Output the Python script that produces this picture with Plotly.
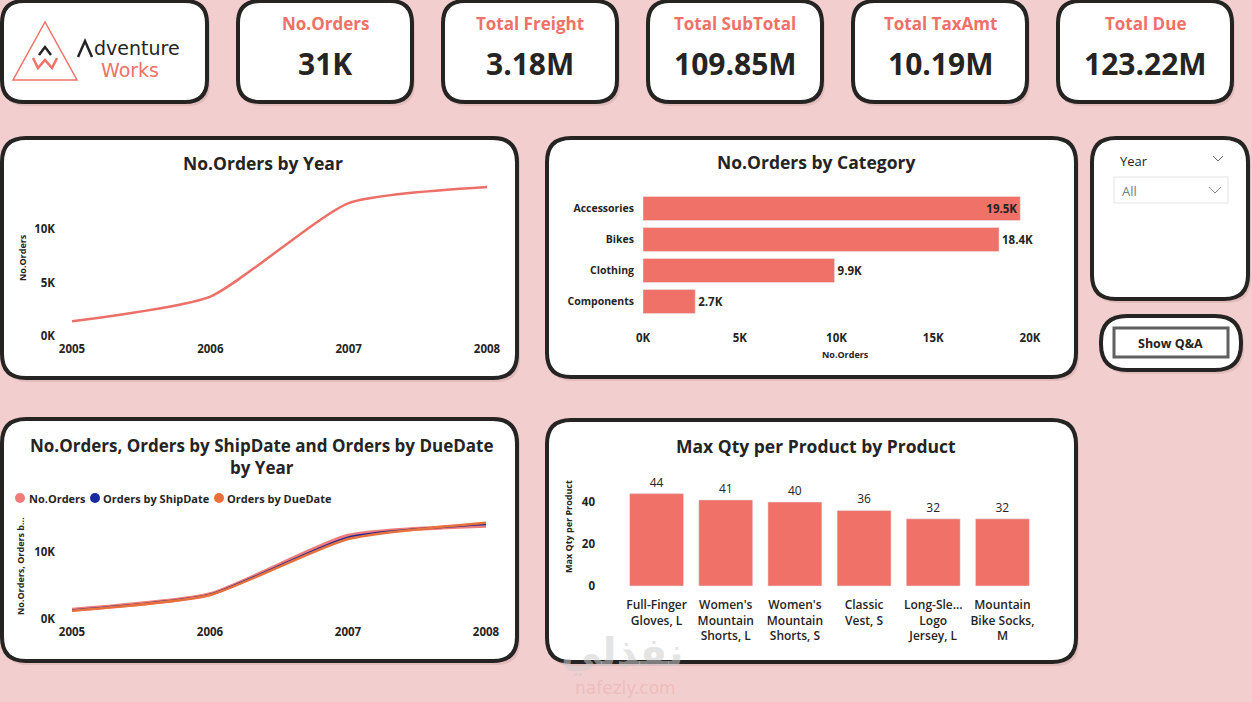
import plotly.graph_objects as go

W, H = 1252, 702

BG = "#F2CECE"
SALMON = "#EF7168"
DARK = "#252423"
FONT = "Segoe UI, Open Sans, sans-serif"

# KPI cards
kpi_labels = ["No.Orders", "Total Freight", "Total SubTotal", "Total TaxAmt", "Total Due"]
kpi_values = ["31K", "3.18M", "109.85M", "10.19M", "123.22M"]

# orders per year
years = [2005, 2006, 2007, 2008]
orders_by_year = [1379, 3692, 12443, 13951]
orders_by_shipdate = [1300, 3650, 12200, 14150]
orders_by_duedate = [1250, 3600, 11950, 14400]

# orders per category
categories = ["Accessories", "Bikes", "Clothing", "Components"]
category_orders = [19500, 18400, 9900, 2700]
category_text = ["19.5K", "18.4K", "9.9K", "2.7K"]

# max qty per product
products = [
    "Full-Finger<br>Gloves, L",
    "Women's<br>Mountain<br>Shorts, L",
    "Women's<br>Mountain<br>Shorts, S",
    "Classic<br>Vest, S",
    "Long-Sle...<br>Logo<br>Jersey, L",
    "Mountain<br>Bike Socks,<br>M",
]
max_qty = [44, 41, 40, 36, 32, 32]


def X(x):
    return x / W


def Y(y):
    return 1 - y / H


def rounded_path(x0, y0, x1, y1, r):
    p = f"M {X(x0 + r)},{Y(y0)} L {X(x1 - r)},{Y(y0)} "
    p += f"Q {X(x1)},{Y(y0)} {X(x1)},{Y(y0 + r)} L {X(x1)},{Y(y1 - r)} "
    p += f"Q {X(x1)},{Y(y1)} {X(x1 - r)},{Y(y1)} L {X(x0 + r)},{Y(y1)} "
    p += f"Q {X(x0)},{Y(y1)} {X(x0)},{Y(y1 - r)} L {X(x0)},{Y(y0 + r)} "
    p += f"Q {X(x0)},{Y(y0)} {X(x0 + r)},{Y(y0)} Z"
    return p


def line_path(points):
    return "M " + " L ".join(f"{X(a)},{Y(b)}" for a, b in points)


fig = go.Figure()


def panel(x0, y0, x1, y1, r=24, lw=4, color=DARK):
    # soft shadow then the white card
    fig.add_shape(type="path", path=rounded_path(x0 + 2, y0 + 3, x1 + 3, y1 + 4, r),
                  xref="paper", yref="paper", fillcolor="rgba(120,60,60,0.13)",
                  line=dict(width=0), layer="below")
    fig.add_shape(type="path", path=rounded_path(x0, y0, x1, y1, r),
                  xref="paper", yref="paper", fillcolor="white",
                  line=dict(color=color, width=lw), layer="below")


def text(x, y, s, size, color=DARK, bold=False, xanchor="center", angle=0, family=FONT):
    fig.add_annotation(x=X(x), y=Y(y), xref="paper", yref="paper",
                       text=f"<b>{s}</b>" if bold else s, showarrow=False,
                       font=dict(family=family, size=size, color=color),
                       xanchor=xanchor, yanchor="middle", textangle=angle)


# ---- cards and panels
panel(2, 1, 207, 102, r=22)
card_x = [238, 443, 648, 853, 1058]
for cx, lab, val in zip(card_x, kpi_labels, kpi_values):
    panel(cx, 1, cx + 174, 102, r=22)
    text(cx + 87, 24, lab, 17, SALMON, bold=True)
    text(cx + 87, 63, val, 30, DARK, bold=True)

panel(2, 138, 517, 378)
panel(547, 138, 1076, 377)
panel(1092, 138, 1248, 299, r=24)
panel(2, 419, 517, 661)
panel(547, 420, 1076, 662)

# ---- logo
fig.add_shape(type="path", path=line_path([(45, 22), (13, 80), (77, 80)]) + " Z",
              xref="paper", yref="paper", line=dict(color=SALMON, width=1.5))
fig.add_shape(type="path", path=line_path([(39, 55), (45, 47), (51, 55)]),
              xref="paper", yref="paper", line=dict(color=DARK, width=2.5))
fig.add_shape(type="path", path=line_path([(33, 58), (38, 68), (45, 60), (52, 68), (57, 58)]),
              xref="paper", yref="paper", line=dict(color=SALMON, width=2.5))
fig.add_shape(type="path", path=line_path([(78, 57), (85, 41), (92, 57)]),
              xref="paper", yref="paper", line=dict(color=DARK, width=2.5))
text(92, 48, "dventure", 19, DARK, xanchor="left", family="DejaVu Sans")
text(99, 70, "Works", 19, SALMON, xanchor="left", family="DejaVu Sans")

# ---- slicer
text(1118, 161, "Year", 13, DARK, xanchor="left")
fig.add_shape(type="path", path=line_path([(1213, 156), (1218, 161), (1223, 156)]),
              xref="paper", yref="paper", line=dict(color="#666666", width=1))
fig.add_shape(type="rect", x0=X(1114), x1=X(1228), y0=Y(203), y1=Y(177),
              xref="paper", yref="paper", line=dict(color="#E4E4E4", width=1))
text(1120, 191, "All", 13, "#7A7A7A", xanchor="left")
fig.add_shape(type="path", path=line_path([(1209, 187), (1215, 193), (1221, 187)]),
              xref="paper", yref="paper", line=dict(color="#888888", width=1))

# ---- Q&A button
panel(1101, 316, 1241, 370, r=26)
fig.add_shape(type="rect", x0=X(1114), x1=X(1228), y0=Y(357), y1=Y(328),
              xref="paper", yref="paper", line=dict(color="#606060", width=3))
text(1170, 343, "Show Q&A", 12.5, DARK, bold=True)

# ---- chart titles and axis titles
text(263, 163, "No.Orders by Year", 17.5, DARK, bold=True)
text(22, 258, "No.Orders", 9, DARK, bold=True, angle=-90)

text(816, 162, "No.Orders by Category", 17.5, DARK, bold=True)
text(845, 354, "No.Orders", 9, DARK, bold=True)

text(262, 456, "No.Orders, Orders by ShipDate and Orders by DueDate<br>by Year", 17, DARK, bold=True)
text(20, 566, "No.Orders, Orders b...", 9, DARK, bold=True, angle=-90)

text(816, 446, "Max Qty per Product by Product", 17.5, DARK, bold=True)
text(568, 527, "Max Qty per Product", 9, DARK, bold=True, angle=-90)

# legend of the three-line chart
legend_items = [("No.Orders", "#F07C7A", 20, 27),
                ("Orders by ShipDate", "#1A2A9E", 95, 101),
                ("Orders by DueDate", "#E8703A", 219, 225)]
for name, col, cx, tx in legend_items:
    fig.add_shape(type="circle", x0=X(cx - 5), x1=X(cx + 5), y0=Y(503), y1=Y(493),
                  xref="paper", yref="paper", fillcolor=col, line=dict(width=0))
    text(tx, 498, name, 11, DARK, bold=True, xanchor="left")

# watermark
text(622, 652, "نفذلي", 40, "rgba(205,205,205,0.55)", bold=True, family="DejaVu Sans")
text(625, 688, "nafezly.com", 17, "rgba(236,185,185,0.8)", family="DejaVu Sans")

# ---- traces
fig.add_trace(go.Scatter(x=years, y=orders_by_year, mode="lines",
                         line=dict(color="#EC6F68", width=2.5, shape="spline", smoothing=0.55),
                         xaxis="x", yaxis="y", showlegend=False, hoverinfo="skip"))

fig.add_trace(go.Bar(y=categories, x=category_orders, orientation="h",
                     text=category_text, texttemplate="<b>%{text}</b>",
                     textposition=["inside", "outside", "outside", "outside"],
                     insidetextanchor="end",
                     textfont=dict(family=FONT, size=11.5, color=DARK),
                     insidetextfont=dict(family=FONT, size=11.5, color=DARK),
                     outsidetextfont=dict(family=FONT, size=11.5, color=DARK),
                     marker=dict(color=SALMON), cliponaxis=False,
                     xaxis="x2", yaxis="y2", showlegend=False, hoverinfo="skip"))

fig.add_trace(go.Scatter(x=years, y=orders_by_year, mode="lines",
                         line=dict(color="#F07C7A", width=4, shape="spline", smoothing=0.55),
                         xaxis="x3", yaxis="y3", showlegend=False, hoverinfo="skip"))
fig.add_trace(go.Scatter(x=years, y=orders_by_shipdate, mode="lines",
                         line=dict(color="#1A2A9E", width=2, shape="spline", smoothing=0.55),
                         xaxis="x3", yaxis="y3", showlegend=False, hoverinfo="skip"))
fig.add_trace(go.Scatter(x=years, y=orders_by_duedate, mode="lines",
                         line=dict(color="#E8703A", width=2.5, shape="spline", smoothing=0.55),
                         xaxis="x3", yaxis="y3", showlegend=False, hoverinfo="skip"))

fig.add_trace(go.Bar(x=products, y=max_qty, text=max_qty, textposition="outside",
                     textfont=dict(family=FONT, size=12, color=DARK),
                     marker=dict(color=SALMON), cliponaxis=False,
                     xaxis="x4", yaxis="y4", showlegend=False, hoverinfo="skip"))

axis_common = dict(showgrid=False, zeroline=False, showline=False, ticks="",
                   fixedrange=True, automargin=False)
bold_tick = dict(family=FONT, size=11.5, color=DARK, weight="bold")

fig.update_layout(
    width=W, height=H,
    autosize=False,
    margin=dict(l=0, r=0, t=0, b=0, pad=0),
    paper_bgcolor=BG, plot_bgcolor="rgba(0,0,0,0)",
    font=dict(family=FONT, color=DARK),
    bargap=0.22,
    hovermode=False,
    xaxis=dict(axis_common, domain=[X(72), X(487)], range=[2005, 2008], anchor="y",
               tickvals=years, ticktext=[str(v) for v in years], tickfont=bold_tick,
               ticklabelstandoff=4),
    yaxis=dict(axis_common, domain=[Y(336), Y(180)], range=[0, 14600], anchor="x",
               tickvals=[0, 5000, 10000], ticktext=["0K", "5K", "10K"], tickfont=bold_tick,
               ticklabelstandoff=16),
    xaxis2=dict(axis_common, domain=[X(643), X(1030)], range=[0, 20000], anchor="y2",
                tickvals=[0, 5000, 10000, 15000, 20000],
                ticktext=["0K", "5K", "10K", "15K", "20K"], tickfont=bold_tick,
                ticklabelstandoff=12),
    yaxis2=dict(axis_common, domain=[Y(317), Y(193)], anchor="x2", type="category",
                autorange="reversed", tickfont=dict(bold_tick, size=10.5),
                ticklabelstandoff=8),
    xaxis3=dict(axis_common, domain=[X(72), X(486)], range=[2005, 2008], anchor="y3",
                tickvals=years, ticktext=[str(v) for v in years], tickfont=bold_tick,
                ticklabelstandoff=4),
    yaxis3=dict(axis_common, domain=[Y(619), Y(520)], range=[0, 14800], anchor="x3",
                tickvals=[0, 10000], ticktext=["0K", "10K"], tickfont=bold_tick,
                ticklabelstandoff=16),
    xaxis4=dict(axis_common, domain=[X(622), X(1037)], anchor="y4", type="category",
                tickfont=dict(family=FONT, size=12, color=DARK, weight=600),
                ticklabelstandoff=10),
    yaxis4=dict(axis_common, domain=[Y(586), Y(481)], range=[0, 50], anchor="x4",
                tickvals=[0, 20, 40], tickfont=bold_tick, ticklabelstandoff=26),
)

fig.write_html("out.html", config={"displayModeBar": False},
               post_script="document.body.style.margin='0';")
